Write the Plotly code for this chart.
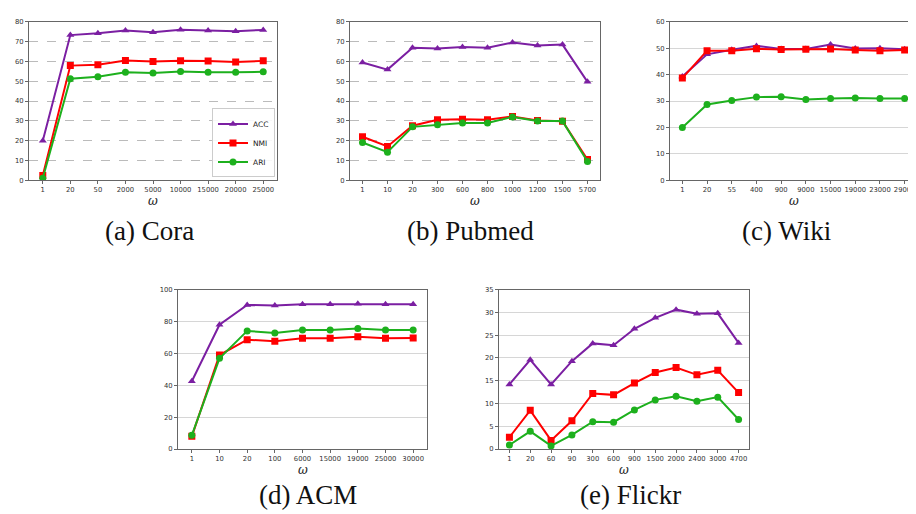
import plotly.graph_objects as go

# ---------------- data ----------------
cora_x = ["1", "20", "50", "2000", "5000", "10000", "15000", "20000", "25000"]
cora_acc = [20.0, 73.3, 74.2, 75.6, 74.8, 76.0, 75.6, 75.3, 75.9]
cora_nmi = [2.5, 57.9, 58.4, 60.5, 60.0, 60.4, 60.2, 59.7, 60.3]
cora_ari = [1.0, 51.3, 52.3, 54.6, 54.2, 54.9, 54.6, 54.5, 54.8]

pubmed_x = ["1", "10", "20", "300", "600", "800", "1000", "1200", "1500", "5700"]
pubmed_acc = [59.5, 55.9, 66.9, 66.6, 67.3, 66.9, 69.6, 68.1, 68.5, 49.7]
pubmed_nmi = [22.0, 17.1, 27.6, 30.6, 30.8, 30.6, 32.2, 30.2, 29.8, 10.5]
pubmed_ari = [19.1, 14.2, 27.0, 28.0, 29.0, 29.0, 32.0, 29.9, 29.9, 9.5]

wiki_x = ["1", "20", "55", "400", "900", "9000", "15000", "19000", "23000", "29000"]
wiki_acc = [39.3, 47.7, 49.4, 50.9, 49.7, 49.7, 51.4, 49.9, 50.0, 49.6]
wiki_nmi = [38.7, 49.1, 49.1, 49.8, 49.5, 49.6, 49.7, 49.3, 49.1, 49.3]
wiki_ari = [20.0, 28.7, 30.2, 31.5, 31.6, 30.6, 31.0, 31.2, 31.0, 31.0]

acm_x = ["1", "10", "20", "100", "6000", "15000", "19000", "25000", "30000"]
acm_acc = [42.5, 78.0, 90.4, 90.0, 90.8, 90.8, 91.2, 90.8, 90.8]
acm_nmi = [8.0, 59.0, 68.6, 67.6, 69.5, 69.5, 70.4, 69.5, 69.7]
acm_ari = [8.6, 56.9, 74.1, 72.8, 74.6, 74.6, 75.6, 74.7, 74.7]

flickr_x = ["1", "20", "60", "90", "300", "600", "900", "1500", "2000", "2400", "3000", "4700"]
flickr_acc = [14.2, 19.6, 14.2, 19.3, 23.2, 22.8, 26.4, 28.8, 30.6, 29.7, 29.8, 23.3]
flickr_nmi = [2.6, 8.5, 1.9, 6.2, 12.2, 11.9, 14.5, 16.8, 17.9, 16.3, 17.3, 12.4]
flickr_ari = [0.9, 3.9, 0.7, 3.1, 6.0, 5.9, 8.6, 10.8, 11.6, 10.5, 11.4, 6.5]

captions = ["(a) Cora", "(b) Pubmed", "(c) Wiki", "(d) ACM", "(e) Flickr"]
y_max = [80, 80, 60, 100, 35]
y_step = [10, 10, 10, 20, 5]

# ---------------- style ----------------
W, H = 916, 514
C_ACC, C_NMI, C_ARI = "#7B1FA2", "#FF0000", "#1DB01D"
TICK_FONT = dict(family="DejaVu Sans", size=6.8, color="#333333")
SPINE = "#666666"

panels = [
    (cora_x, cora_acc, cora_nmi, cora_ari),
    (pubmed_x, pubmed_acc, pubmed_nmi, pubmed_ari),
    (wiki_x, wiki_acc, wiki_nmi, wiki_ari),
    (acm_x, acm_acc, acm_nmi, acm_ari),
    (flickr_x, flickr_acc, flickr_nmi, flickr_ari),
]
# pixel boxes of axes: (left, right, top, bottom)
boxes = [(21, 269, 10, 171), (342, 592, 10, 171), (662, 909, 10, 171),
         (170, 419, 282, 444), (491, 741, 282, 444)]
grid_dash = ["dash", "dash", "solid", "solid", "solid"]
grid_col = ["#bbbbbb", "#bbbbbb", "#d6d6d6", "#d6d6d6", "#d6d6d6"]
cap_x = [141, 462, 778, 300, 622]
cap_y = [222, 222, 222, 491, 491]

fig = go.Figure()
layout = dict(width=W, height=H, margin=dict(l=0, r=0, t=0, b=0),
              paper_bgcolor="white", plot_bgcolor="white", showlegend=True)
annotations = []

for i, (xs, acc, nmi, ari) in enumerate(panels):
    n = i + 1
    xa = "x" if n == 1 else f"x{n}"
    ya = "y" if n == 1 else f"y{n}"
    for name, vals, col, sym in [("ACC", acc, C_ACC, "triangle-up"),
                                 ("NMI", nmi, C_NMI, "square"),
                                 ("ARI", ari, C_ARI, "circle")]:
        fig.add_trace(go.Scatter(
            x=xs, y=vals, mode="lines+markers", name=name,
            xaxis=xa, yaxis=ya, showlegend=(i == 0),
            line=dict(color=col, width=2),
            marker=dict(color=col, symbol=sym, size=7),
        ))
    l, r, t, b = boxes[i]
    xkey = "xaxis" if n == 1 else f"xaxis{n}"
    ykey = "yaxis" if n == 1 else f"yaxis{n}"
    layout[xkey] = dict(
        domain=[l / W, r / W], anchor=ya, type="category",
        range=[-0.5, len(xs) - 0.5], showgrid=False, zeroline=False,
        showline=True, mirror=True, linecolor=SPINE, linewidth=1,
        ticks="outside", ticklen=3, tickcolor=SPINE, tickfont=TICK_FONT,
        tickangle=0, fixedrange=True,
    )
    layout[ykey] = dict(
        domain=[(H - b) / H, (H - t) / H], anchor=xa,
        range=[0, y_max[i]], dtick=y_step[i], tick0=0,
        showgrid=True, gridcolor=grid_col[i], griddash=grid_dash[i], gridwidth=1,
        zeroline=False, showline=True, mirror=True, linecolor=SPINE, linewidth=1,
        ticks="outside", ticklen=3, tickcolor=SPINE, tickfont=TICK_FONT,
        fixedrange=True,
    )
    # x-axis label (omega)
    annotations.append(dict(
        text="<i>ω</i>", xref="paper", yref="paper",
        x=(l + r) / 2 / W, y=(H - (b + 21)) / H,
        xanchor="center", yanchor="middle", showarrow=False,
        font=dict(family="DejaVu Serif", size=12, color="#222222"),
    ))

layout["legend"] = dict(
    x=267 / W, y=(H - 168) / H, xanchor="right", yanchor="bottom",
    font=dict(family="DejaVu Sans", size=7.5, color="#222222"),
    bgcolor="rgba(255,255,255,0.9)", bordercolor="#cccccc", borderwidth=1,
    itemwidth=30, tracegroupgap=0,
)

for i, cap in enumerate(captions):
    annotations.append(dict(
        text=cap, xref="paper", yref="paper", x=cap_x[i] / W, y=(H - cap_y[i]) / H,
        xanchor="center", yanchor="middle", showarrow=False,
        font=dict(family="Liberation Serif", size=27, color="#111111"),
    ))
layout["annotations"] = annotations

fig.update_layout(**layout)
fig.write_html("out.html")
